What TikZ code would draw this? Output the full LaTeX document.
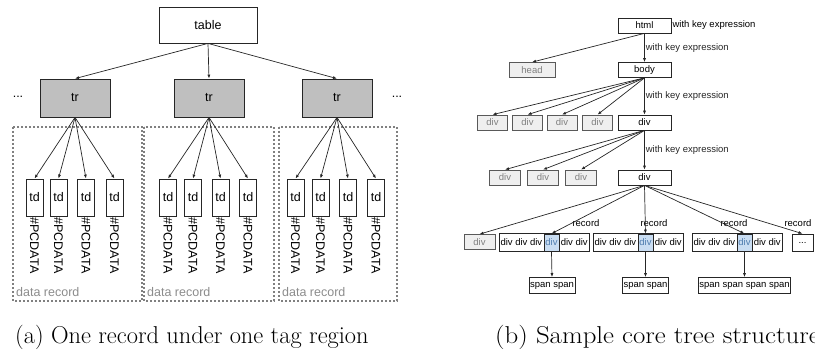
\documentclass[tikz,border=0pt]{standalone}
\usepackage{fontspec}
\setsansfont{Liberation Sans}
\usetikzlibrary{arrows.meta}
\definecolor{lightbox}{HTML}{EFEFEF}
\definecolor{hilite}{HTML}{C9DDF2}
\definecolor{hitext}{HTML}{4F7DAF}

\begin{document}
\begin{tikzpicture}[x=1pt, y=-1pt]
        \tikzstyle{bigtext} = [font=\sffamily\fontsize{12.5}{14}\selectfont]
        \tikzstyle{smalltext} = [font=\sffamily\fontsize{9.5}{11}\selectfont]
        \tikzstyle{tag} = [bigtext, draw=black!85, rectangle, inner sep=0pt, line width=0.8pt]
        \tikzstyle{trbox} = [tag, fill=black!25, minimum width=70, minimum height=38]
        \tikzstyle{tdbox} = [tag, minimum width=17, minimum height=37]
        \tikzstyle{pcdata} = [bigtext, rotate=-90, anchor=west, inner sep=1pt]
        \tikzstyle{region} = [draw=black!50, dash pattern=on 2pt off 2pt, line width=1.2pt]
        \tikzstyle{note} = [bigtext, text=black!45, anchor=west, inner sep=1pt]
        \tikzstyle{elem} = [smalltext, draw=black!85, rectangle, minimum height=15, inner sep=1pt, line width=0.7pt]
        \tikzstyle{skipped} = [elem, fill=lightbox, draw=black!65, text=black!50]
        \tikzstyle{hit} = [elem, fill=hilite, text=hitext, minimum width=15, minimum height=17]
        \tikzstyle{part} = [smalltext, minimum height=17, inner sep=1.2pt]
        \tikzstyle{pointer} = [-{Latex[length=4pt, width=3pt]}, line width=0.7pt, black!85]
        \tikzstyle{caption} = [font=\fontsize{24.4}{28}\selectfont, anchor=west, inner sep=0pt]
        \useasboundingbox (0,0) rectangle (815,353);

        % (a) table
        \node[tag, minimum width=98, minimum height=36] (T) at (208,25) {table};
        \node[trbox] (R1) at (75,98) {tr};
        \node[trbox] (R2) at (209,98) {tr};
        \node[trbox] (R3) at (337,98) {tr};
        \node[bigtext] (L) at (18,97) {...};
        \node[bigtext] (M) at (397,97) {...};
        \path[pointer]
        (T.south) edge (R1.north)
        (T.south) edge (R2.north)
        (T.south) edge (R3.north);
        \draw[region] (13,127) rectangle (142,301);
        \draw[region] (144,127) rectangle (274,301);
        \draw[region] (279,127) rectangle (397,301);
        \node[note] (N1) at (15,292) {data record};
        \node[note] (N2) at (146,292) {data record};
        \node[note] (N3) at (281,292) {data record};
        \foreach \x/\r [count=\i] in {34.5/1, 58.5/1, 86/1, 114.5/1, 168/2, 193/2, 220.5/2, 248/2, 295.5/3, 320.5/3, 348/3, 376/3} {
            \node[tdbox] (D\i) at (\x,197.5) {td};
            \node[pcdata] (P\i) at (D\i.south) {\#PCDATA};
            \path[pointer] (R\r.south) edge (D\i.north);
        }

        % (b) core tree
        \node[elem, minimum width=53] (H) at (644.5,25.5) {html};
        \node[smalltext, anchor=west, inner sep=1pt] (K1) at (H.east) {with key expression};
        \node[skipped, minimum width=46] (HD) at (532,70) {head};
        \node[elem, minimum width=53] (B) at (644.5,70) {body};
        \node[skipped, minimum width=30] (A1) at (492.5,122.5) {div};
        \node[skipped, minimum width=30] (A2) at (527.5,122.5) {div};
        \node[skipped, minimum width=30] (A3) at (562,122.5) {div};
        \node[skipped, minimum width=30] (A4) at (597.5,122.5) {div};
        \node[elem, minimum width=53] (V1) at (644.5,122.5) {div};
        \node[skipped, minimum width=31] (C1) at (505,177.5) {div};
        \node[skipped, minimum width=31] (C2) at (543,177.5) {div};
        \node[skipped, minimum width=31] (C3) at (581,177.5) {div};
        \node[elem, minimum width=53] (V2) at (644.5,177.5) {div};
        \node[skipped, minimum width=31] (G) at (479.5,242) {div};
        \node[hit] (X1) at (551.5,242.5) {div};
        \node[hit] (X2) at (645.5,242.5) {div};
        \node[hit] (X3) at (744.5,242.5) {div};
        \node[part, anchor=east] (XL1) at (X1.west) {div div div};
        \node[part, anchor=west] (XR1) at (X1.east) {div div};
        \node[part, anchor=east] (XL2) at (X2.west) {div div div};
        \node[part, anchor=west] (XR2) at (X2.east) {div div};
        \node[part, anchor=east] (XL3) at (X3.west) {div div div};
        \node[part, anchor=west] (XR3) at (X3.east) {div div};
        \draw[black!85, line width=0.7pt] (XL1.north west) rectangle (XR1.south east);
        \draw[black!85, line width=0.7pt] (XL2.north west) rectangle (XR2.south east);
        \draw[black!85, line width=0.7pt] (XL3.north west) rectangle (XR3.south east);
        \node[elem, minimum width=21, minimum height=17] (E) at (802.5,242.5) {...};
        \node[elem, minimum height=16] (S1) at (552,285.5) {span span};
        \node[elem, minimum height=16] (S2) at (645.5,285.5) {span span};
        \node[elem, minimum height=16] (S3) at (744.5,285.5) {span span span span};
        \node[smalltext] (Q1) at (586,223) {record};
        \node[smalltext] (Q2) at (654,223) {record};
        \node[smalltext] (Q3) at (734,223) {record};
        \node[smalltext] (Q4) at (798,223) {record};
        \path[pointer]
        (H.south) edge (HD.north)
        (H.south) edge node[smalltext, right, inner sep=1pt] (K2) {with key expression} (B.north)
        (B.south) edge (A1.north)
        (B.south) edge (A2.north)
        (B.south) edge (A3.north)
        (B.south) edge (A4.north)
        (B.south) edge node[smalltext, right, inner sep=1pt] (K3) {with key expression} (V1.north)
        (V1.south) edge (C1.north)
        (V1.south) edge (C2.north)
        (V1.south) edge (C3.north)
        (V1.south) edge node[smalltext, right, inner sep=1pt] (K4) {with key expression} (V2.north)
        (V2.south) edge (G.north)
        (V2.south) edge (X1.north)
        (V2.south) edge (X2.north)
        (V2.south) edge (X3.north)
        (V2.south) edge (E.north)
        (X1.south) edge (S1.north)
        (X2.south) edge (S2.north)
        (X3.south) edge (S3.north);

        \node[caption] (CA) at (15,337) {(a) One record under one tag region};
        \node[caption] (CB) at (495,337) {\scalebox{1.1}[1]{(b) Sample core tree structure}};
    \end{tikzpicture}
\end{document}
